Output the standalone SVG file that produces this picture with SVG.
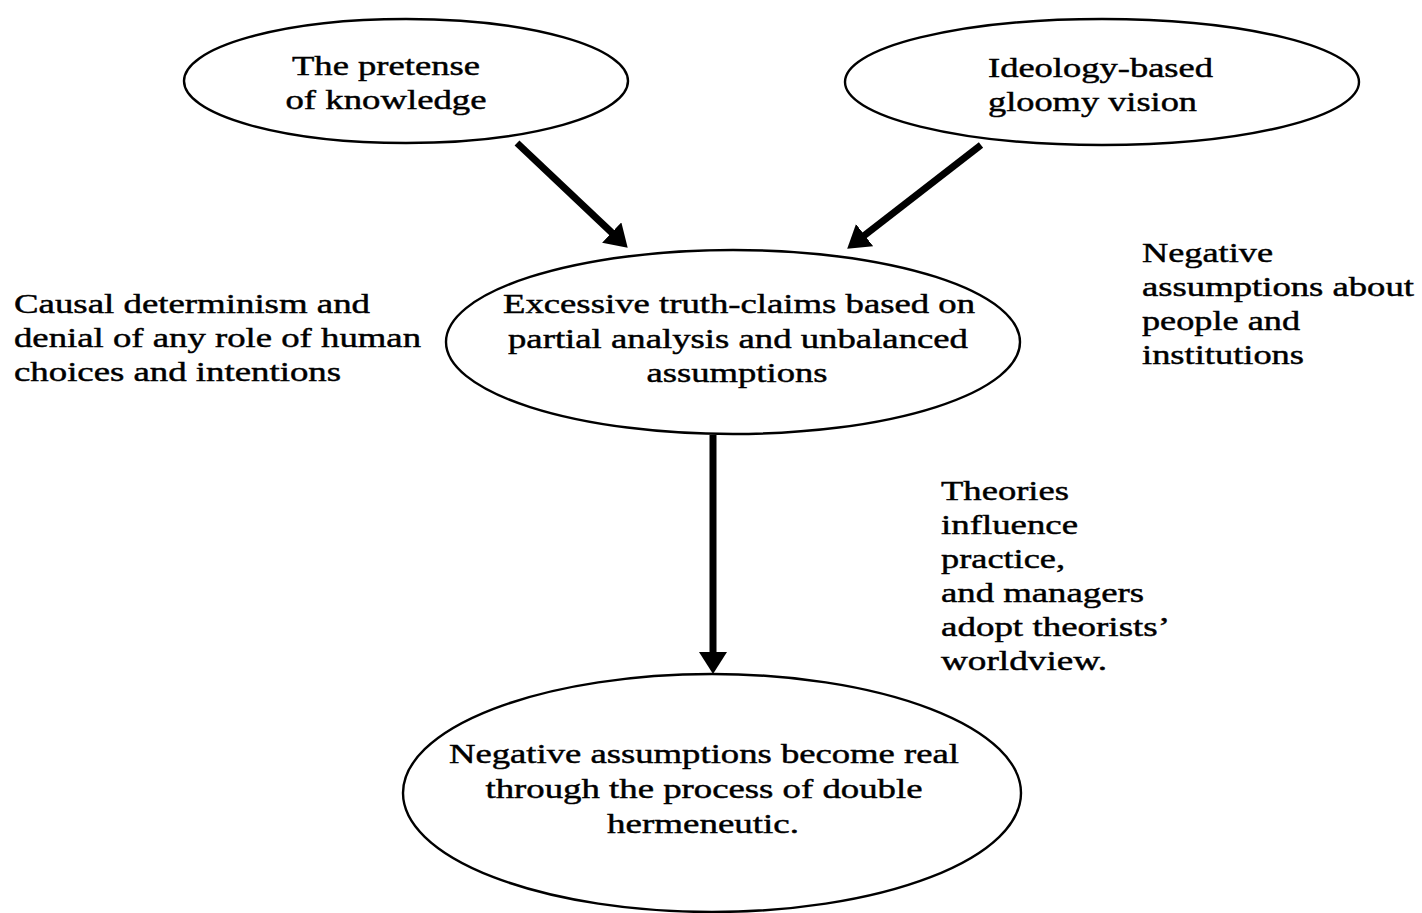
<svg xmlns="http://www.w3.org/2000/svg" width="1422" height="913" viewBox="0 0 1422 913">
<style>
.n{fill:#fff;stroke:#000;stroke-width:2.4}
.t{font-family:"Liberation Serif","Times New Roman",serif;font-size:28px;fill:#000;stroke:#000;stroke-width:0.45}
.c{text-anchor:middle}
.e{stroke:#000;stroke-width:7;fill:none}
</style>
<defs>
<marker id="ah" viewBox="0 0 22 28" refX="11" refY="14" markerWidth="22" markerHeight="28" orient="auto" markerUnits="userSpaceOnUse">
<path d="M0,0 L22,14 L0,28 z" fill="#000"/>
</marker>
</defs>
<rect width="1422" height="913" fill="#fff"/>
<g id="connectors">
<line class="e" x1="517" y1="143" x2="619.7" y2="240.1" marker-end="url(#ah)"/>
<line class="e" x1="981" y1="145" x2="855.9" y2="241.9" marker-end="url(#ah)"/>
<line class="e" x1="713" y1="435" x2="713" y2="663" marker-end="url(#ah)"/>
</g>
<g id="node-pretense">
<ellipse class="n" cx="406" cy="81" rx="222" ry="62"/>
<text class="t c" x="386" y="75" textLength="188" lengthAdjust="spacingAndGlyphs">The pretense</text>
<text class="t c" x="386" y="109" textLength="201" lengthAdjust="spacingAndGlyphs">of knowledge</text>
</g>
<g id="node-ideology">
<ellipse class="n" cx="1102" cy="82" rx="257" ry="63"/>
<text class="t" x="988" y="77" textLength="225" lengthAdjust="spacingAndGlyphs">Ideology-based</text>
<text class="t" x="988" y="111" textLength="209" lengthAdjust="spacingAndGlyphs">gloomy vision</text>
</g>
<g id="node-excessive">
<ellipse class="n" cx="733" cy="342" rx="287" ry="92"/>
<text class="t c" x="739" y="313" textLength="472" lengthAdjust="spacingAndGlyphs">Excessive truth-claims based on</text>
<text class="t c" x="738" y="348" textLength="460" lengthAdjust="spacingAndGlyphs">partial analysis and unbalanced</text>
<text class="t c" x="737" y="382" textLength="181" lengthAdjust="spacingAndGlyphs">assumptions</text>
</g>
<g id="node-negative">
<ellipse class="n" cx="712" cy="793" rx="309" ry="119"/>
<text class="t c" x="704" y="763" textLength="510" lengthAdjust="spacingAndGlyphs">Negative assumptions become real</text>
<text class="t c" x="704" y="798" textLength="437" lengthAdjust="spacingAndGlyphs">through the process of double</text>
<text class="t c" x="703" y="833" textLength="192" lengthAdjust="spacingAndGlyphs">hermeneutic.</text>
</g>
<g id="label-causal">
<text class="t" x="14" y="313" textLength="356" lengthAdjust="spacingAndGlyphs">Causal determinism and</text>
<text class="t" x="14" y="347" textLength="407" lengthAdjust="spacingAndGlyphs">denial of any role of human</text>
<text class="t" x="14" y="381" textLength="327" lengthAdjust="spacingAndGlyphs">choices and intentions</text>
</g>
<g id="label-negative-assumptions">
<text class="t" x="1142" y="262" textLength="131" lengthAdjust="spacingAndGlyphs">Negative</text>
<text class="t" x="1142" y="296" textLength="272" lengthAdjust="spacingAndGlyphs">assumptions about</text>
<text class="t" x="1142" y="330" textLength="158" lengthAdjust="spacingAndGlyphs">people and</text>
<text class="t" x="1142" y="364" textLength="162" lengthAdjust="spacingAndGlyphs">institutions</text>
</g>
<g id="label-theories">
<text class="t" x="941" y="500" textLength="128" lengthAdjust="spacingAndGlyphs">Theories</text>
<text class="t" x="941" y="534" textLength="137" lengthAdjust="spacingAndGlyphs">influence</text>
<text class="t" x="941" y="568" textLength="124" lengthAdjust="spacingAndGlyphs">practice,</text>
<text class="t" x="941" y="602" textLength="203" lengthAdjust="spacingAndGlyphs">and managers</text>
<text class="t" x="941" y="636" textLength="229" lengthAdjust="spacingAndGlyphs">adopt theorists’</text>
<text class="t" x="941" y="670" textLength="166" lengthAdjust="spacingAndGlyphs">worldview.</text>
</g>
</svg>
